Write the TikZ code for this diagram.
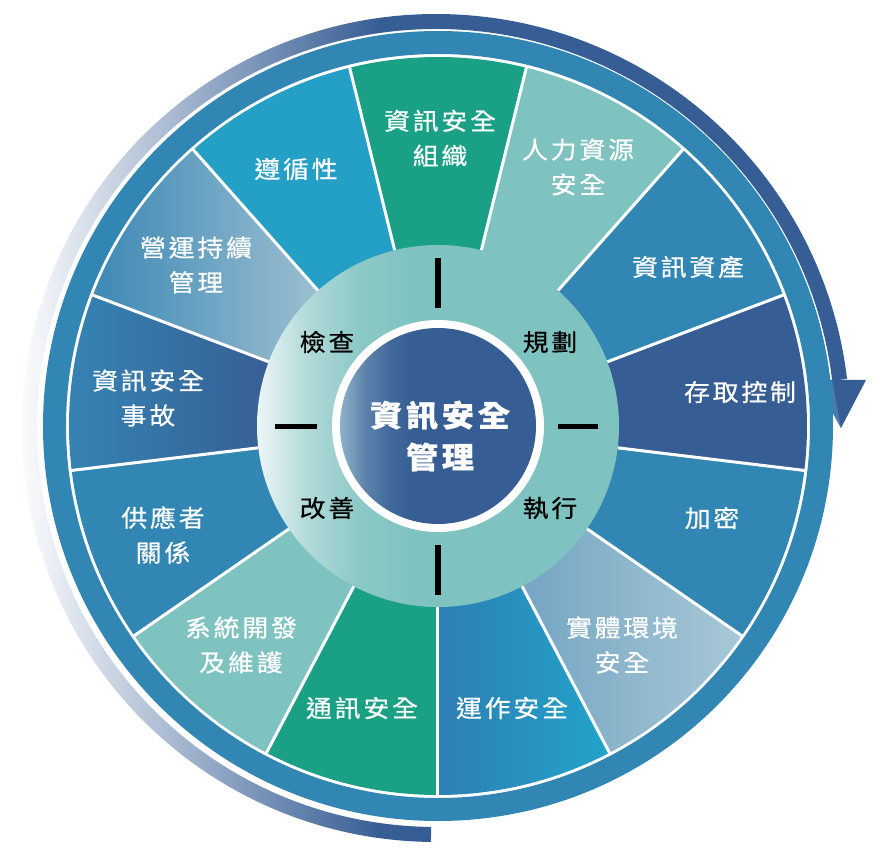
\documentclass[tikz,border=0pt]{standalone}
\usepackage{fontspec}
\newfontfamily\cjk{Noto Sans CJK TC}[FakeStretch=1.08,LetterSpace=12,FakeBold=0.6]
\usepackage{tikz}

\definecolor{darkblue}{HTML}{375E94}
\definecolor{midblue}{HTML}{3186B3}
\definecolor{brightblue}{HTML}{24A0C7}
\definecolor{seagreen}{HTML}{1AA085}
\definecolor{lightteal}{HTML}{7FC3C0}
\definecolor{tealwhite}{HTML}{EDF5F6}
\definecolor{corelight}{HTML}{8DB1C9}
\definecolor{arrowlight}{HTML}{4A7BAE}
\definecolor{greyblueL}{HTML}{74A5C3}
\definecolor{greyblueR}{HTML}{A8C8D6}
\definecolor{opsL}{HTML}{2D7FB4}
\definecolor{opsR}{HTML}{22A4CA}
\definecolor{incL}{HTML}{3584B4}
\definecolor{bcmL}{HTML}{3D88B5}
\definecolor{bcmR}{HTML}{9DC0D1}

\pgfdeclarehorizontalshading{arcshade}{100bp}{color(0bp)=(white); color(25bp)=(white); color(47bp)=(darkblue); color(100bp)=(darkblue)}
\pgfdeclarehorizontalshading{ringshade}{100bp}{color(0bp)=(tealwhite); color(25bp)=(tealwhite); color(32bp)=(lightteal!55!tealwhite); color(39bp)=(lightteal!88!tealwhite); color(46bp)=(lightteal); color(100bp)=(lightteal)}
\pgfdeclarehorizontalshading{coreshade}{100bp}{color(0bp)=(corelight); color(25bp)=(corelight); color(32bp)=(darkblue!60!corelight); color(38bp)=(darkblue!88!corelight); color(44bp)=(darkblue); color(100bp)=(darkblue)}

\begin{document}
\begin{tikzpicture}[x=1bp,y=1bp,
	seglabel/.style={text=white,align=center,font=\cjk\fontsize{24}{35}\selectfont},
	pdcalabel/.style={text=black,font=\cjk\fontsize{24}{30}\selectfont},
	corelabel/.style={text=white,align=center,font=\cjk\bfseries\fontsize{30}{42}\selectfont},
	divider/.style={white,line width=3bp},
	tickbar/.style={black,line width=5bp}]
		%background
		\fill[white] (-438,-437) rectangle (447,426);

		%outer arrow
		\begin{scope}[shift={(-2,-2)}]
			\shade[shading=arcshade] (269.3:414) arc (269.3:6.8:414) -- (6.8:399) arc (6.8:269.3:399) -- cycle;
		\end{scope}
		\fill[darkblue] (377,46) -- (428,46) -- (403,-2) -- cycle;
		\fill[arrowlight] (377,46) -- (394,46) -- (403,-2) -- cycle;

		%outer ring
		\fill[midblue,even odd rule] (0,0) circle (395) (0,0) circle (372);

		%segments
		\fill[seagreen] (76.15:175) -- (76.15:369) arc (76.15:103.85:369) -- (103.85:175) arc (103.85:76.15:175) -- cycle;
		\fill[lightteal] (48.46:175) -- (48.46:369) arc (48.46:76.15:369) -- (76.15:175) arc (76.15:48.46:175) -- cycle;
		\fill[midblue] (20.77:175) -- (20.77:369) arc (20.77:48.46:369) -- (48.46:175) arc (48.46:20.77:175) -- cycle;
		\fill[darkblue] (-6.92:175) -- (-6.92:369) arc (-6.92:20.77:369) -- (20.77:175) arc (20.77:-6.92:175) -- cycle;
		\fill[midblue] (-34.62:175) -- (-34.62:369) arc (-34.62:-6.92:369) -- (-6.92:175) arc (-6.92:-34.62:175) -- cycle;
		\shade[left color=greyblueL,right color=greyblueR] (-62.31:175) -- (-62.31:369) arc (-62.31:-34.62:369) -- (-34.62:175) arc (-34.62:-62.31:175) -- cycle;
		\shade[left color=opsL,right color=opsR] (-90:175) -- (-90:369) arc (-90:-62.31:369) -- (-62.31:175) arc (-62.31:-90:175) -- cycle;
		\fill[seagreen] (242.31:175) -- (242.31:369) arc (242.31:270:369) -- (270:175) arc (270:242.31:175) -- cycle;
		\fill[lightteal] (214.62:175) -- (214.62:369) arc (214.62:242.31:369) -- (242.31:175) arc (242.31:214.62:175) -- cycle;
		\fill[midblue] (186.92:175) -- (186.92:369) arc (186.92:214.62:369) -- (214.62:175) arc (214.62:186.92:175) -- cycle;
		\shade[left color=incL,right color=darkblue] (159.23:175) -- (159.23:369) arc (159.23:186.92:369) -- (186.92:175) arc (186.92:159.23:175) -- cycle;
		\shade[left color=bcmL,right color=bcmR] (131.54:175) -- (131.54:369) arc (131.54:159.23:369) -- (159.23:175) arc (159.23:131.54:175) -- cycle;
		\fill[brightblue] (103.85:175) -- (103.85:369) arc (103.85:131.54:369) -- (131.54:175) arc (131.54:103.85:175) -- cycle;

		%dividers
		\draw[divider] (-90:181) -- (-90:370.5);
		\draw[divider] (-62.31:181) -- (-62.31:370.5);
		\draw[divider] (-34.62:181) -- (-34.62:370.5);
		\draw[divider] (-6.92:181) -- (-6.92:370.5);
		\draw[divider] (20.77:181) -- (20.77:370.5);
		\draw[divider] (48.46:181) -- (48.46:370.5);
		\draw[divider] (76.15:181) -- (76.15:370.5);
		\draw[divider] (103.85:181) -- (103.85:370.5);
		\draw[divider] (131.54:181) -- (131.54:370.5);
		\draw[divider] (159.23:181) -- (159.23:370.5);
		\draw[divider] (186.92:181) -- (186.92:370.5);
		\draw[divider] (214.62:181) -- (214.62:370.5);
		\draw[divider] (242.31:181) -- (242.31:370.5);

		%pdca ring
		\shade[shading=ringshade] (0,0) circle (181);
		\fill[white] (0,0) circle (106);

		%core
		\shade[shading=coreshade] (0,0) circle (98);

		%ticks
		\draw[tickbar] (0,118) -- (0,168);
		\draw[tickbar] (0,-119) -- (0,-169);
		\draw[tickbar] (-163,-1) -- (-121,-1);
		\draw[tickbar] (120,-1) -- (160,-1);

		%segment labels
		\node[seglabel] (s1) at (2,288) {資訊安全\\組織};
		\node[seglabel] (s2) at (140,259) {人力資源\\安全};
		\node[seglabel] (s3) at (250,159) {資訊資產};
		\node[seglabel] (s4) at (302,34) {存取控制};
		\node[seglabel] (s5) at (274,-92) {加密};
		\node[seglabel] (s6) at (184,-219) {實體環境\\安全};
		\node[seglabel] (s7) at (74,-282) {運作安全};
		\node[seglabel] (s8) at (-76,-282) {通訊安全};
		\node[seglabel] (s9) at (-197,-219) {系統開發\\及維護};
		\node[seglabel] (s10) at (-275,-109) {供應者\\關係};
		\node[seglabel] (s11) at (-290,28) {資訊安全\\事故};
		\node[seglabel] (s12) at (-242,161) {營運持續\\管理};
		\node[seglabel] (s13) at (-142,257) {遵循性};

		%pdca labels
		\node[pdcalabel] (p1) at (112,84) {規劃};
		\node[pdcalabel] (p2) at (112,-82) {執行};
		\node[pdcalabel] (p3) at (-111,-82) {改善};
		\node[pdcalabel] (p4) at (-111,84) {檢查};

		%core label
		\node[corelabel] (c) at (2,-10) {資訊安全\\管理};
\end{tikzpicture}
\end{document}
